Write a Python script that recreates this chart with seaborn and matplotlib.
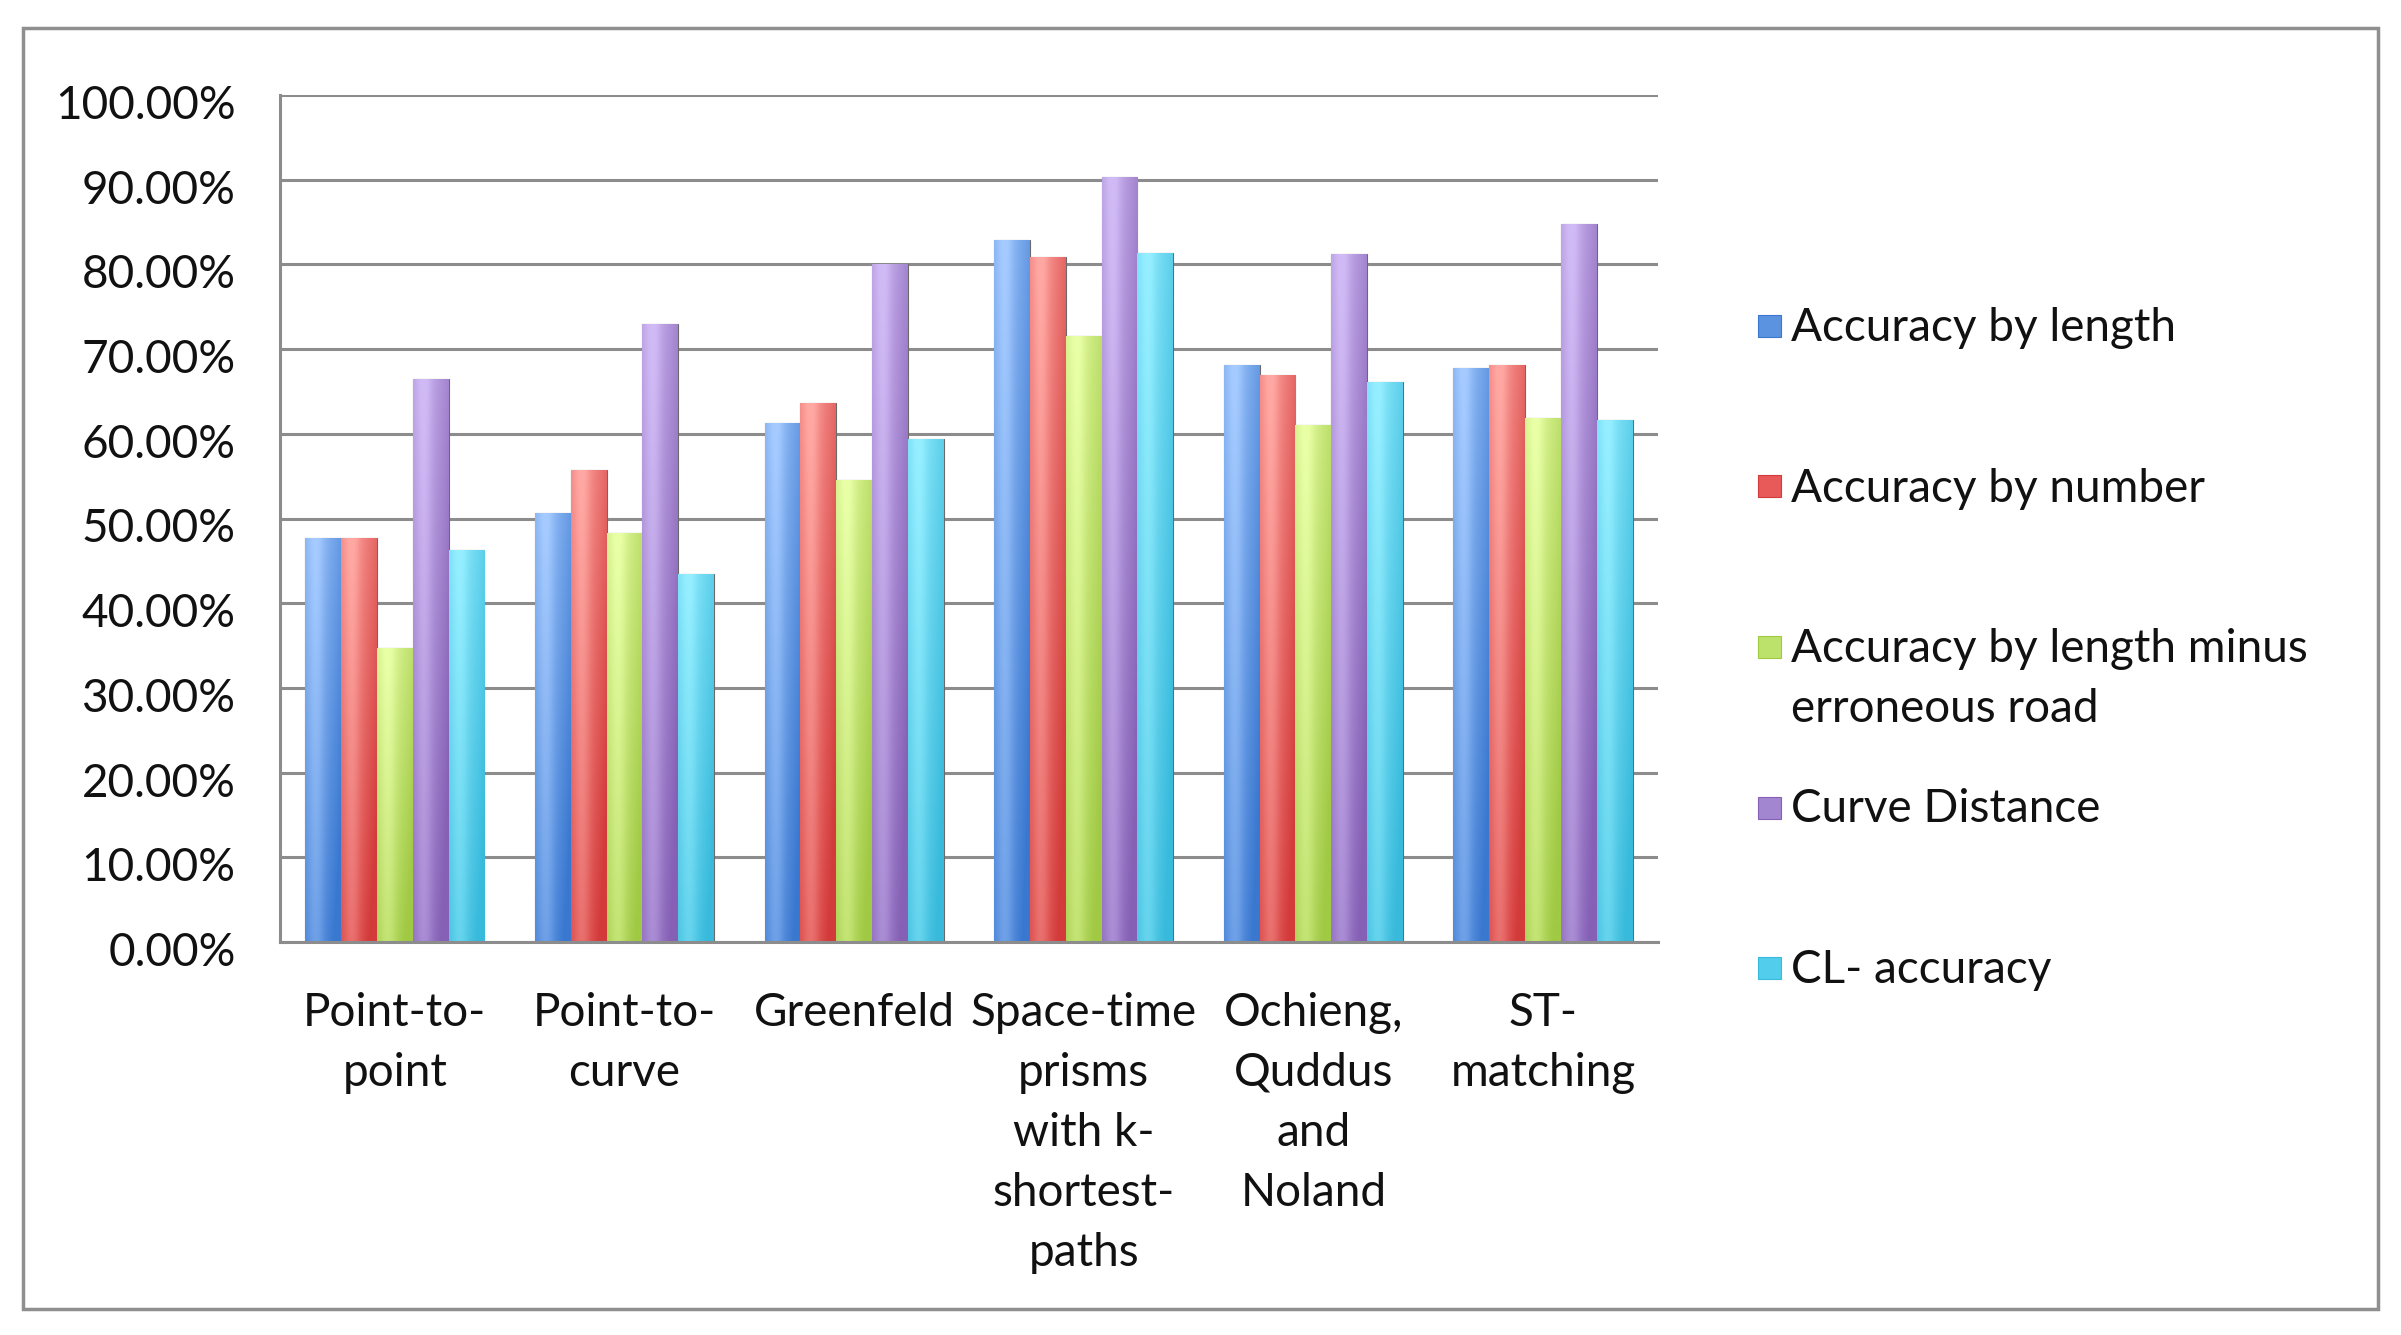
import numpy as np
import pandas as pd
import matplotlib
matplotlib.use("Agg")
import matplotlib.pyplot as plt
import matplotlib.colors as mcolors
import matplotlib.transforms as mtransforms
from matplotlib.patches import Rectangle
from matplotlib.ticker import PercentFormatter
import seaborn as sns

methods = ["Point-to-\npoint", "Point-to-\ncurve", "Greenfeld",
           "Space-time\nprisms\nwith k-\nshortest-\npaths",
           "Ochieng,\nQuddus\nand\nNoland", "ST-\nmatching"]
series = ["Accuracy by length", "Accuracy by number",
          "Accuracy by length minus\nerroneous road", "Curve Distance",
          "CL- accuracy"]

acc_length = [0.477, 0.506, 0.613, 0.829, 0.681, 0.678]
acc_number = [0.477, 0.557, 0.636, 0.809, 0.670, 0.681]
acc_minus_err = [0.347, 0.483, 0.545, 0.715, 0.610, 0.619]
curve_dist = [0.665, 0.730, 0.800, 0.903, 0.812, 0.848]
cl_accuracy = [0.463, 0.435, 0.594, 0.814, 0.661, 0.616]

mid_colors = ["#5b93e0", "#e85a5a", "#bde26c", "#a286d0", "#52cdec"]
light_colors = ["#a4caff", "#ffa7a2", "#e8ffa6", "#d0baf5", "#94eeff"]
dark_colors = ["#3a78d0", "#d33a3a", "#a0c944", "#8560b5", "#38badc"]

values = [acc_length, acc_number, acc_minus_err, curve_dist, cl_accuracy]
df = pd.DataFrame({
    "method": np.tile(methods, len(series)),
    "series": np.repeat(series, len(methods)),
    "value": np.concatenate(values),
})

FS = 33
sns.set_style("white")
plt.rcParams["font.family"] = ["Lato", "DejaVu Sans"]
plt.rcParams["font.size"] = FS

fig = plt.figure(figsize=(24.01, 13.35), dpi=100)
ax = fig.add_axes([0.1166, 0.2944, 0.5739, 0.6344])

sns.barplot(data=df, x="method", y="value", hue="series", order=methods,
            hue_order=series, palette=mid_colors, saturation=1, width=0.78,
            edgecolor="#6a6a6a", linewidth=0.8, legend=False, ax=ax)

# glossy gradient fill, clipped to each bar
bars = [p for p in ax.patches if p.get_height() > 0]
for k, bar in enumerate(bars):
    s = k // len(methods)
    lo = np.array(mcolors.to_rgb(dark_colors[s]))
    hi = np.array(mcolors.to_rgb(light_colors[s]))
    ny, nx = 100, 40
    t = np.linspace(0, 1, ny)[:, None, None]          # 0 bottom, 1 top
    u = np.linspace(0, 1, nx)[None, :, None]
    vert = 0.15 + 0.55 * t
    horiz = 0.35 * np.exp(-((u - 0.3) / 0.25) ** 2) - 0.3 * u ** 3
    mix = np.clip(vert + horiz, 0, 1)
    img = lo + (hi - lo) * mix
    x0, y0 = bar.get_x(), bar.get_y()
    w, h = bar.get_width(), bar.get_height()
    im = ax.imshow(img, origin="lower", extent=[x0, x0 + w, y0, y0 + h],
                   aspect="auto", zorder=bar.get_zorder() + 0.1,
                   interpolation="bilinear")
    im.set_clip_path(bar)

ax.set_xlim(-0.5, len(methods) - 0.5)
ax.set_ylim(0, 1)
ax.set_yticks(np.arange(0, 1.01, 0.1))
ax.yaxis.set_major_formatter(PercentFormatter(1.0, decimals=2))
ax.set_xlabel("")
ax.set_ylabel("")
ax.set_axisbelow(True)
ax.yaxis.grid(True, color="#8c8c8c", linewidth=2.2)
ax.xaxis.grid(False)
for side in ["top", "right"]:
    ax.spines[side].set_visible(False)
for side in ["left", "bottom"]:
    ax.spines[side].set_color("#8c8c8c")
    ax.spines[side].set_linewidth(2.2)
ax.tick_params(axis="y", length=0, pad=32, labelsize=FS, labelcolor="#111111")
ax.tick_params(axis="x", length=0, pad=36, labelsize=FS, labelcolor="#111111")
for lab in ax.get_xticklabels():
    lab.set_linespacing(1.53)
    lab.set_verticalalignment("top")
# excel draws the value labels a touch below their gridline
shift = mtransforms.ScaledTranslation(0, -5 / 72, fig.dpi_scale_trans)
for lab in ax.get_yticklabels():
    lab.set_transform(lab.get_transform() + shift)

# legend drawn as in the spreadsheet: fixed row spacing, markers at first line
y_first = 1 - 341 / 1335
step = 160.5 / 1335
line_gap = 60 / 1335
for i, name in enumerate(series):
    yb = y_first - i * step
    fig.patches.append(Rectangle((1758 / 2401, yb + 4 / 1335), 23 / 2401, 22 / 1335,
                                 transform=fig.transFigure, facecolor=mid_colors[i],
                                 edgecolor=dark_colors[i], linewidth=0.8))
    for j, line in enumerate(name.split("\n")):
        fig.text(1791 / 2401, yb - j * line_gap, line, fontsize=FS,
                 color="#111111", ha="left", va="baseline")

fig.patches.append(Rectangle((23 / 2401, 1 - 1309 / 1335), 2355 / 2401, 1281 / 1335,
                             transform=fig.transFigure, fill=False,
                             edgecolor="#8f8f8f", linewidth=2.5))

fig.savefig("out.png", dpi=100, facecolor="white")
